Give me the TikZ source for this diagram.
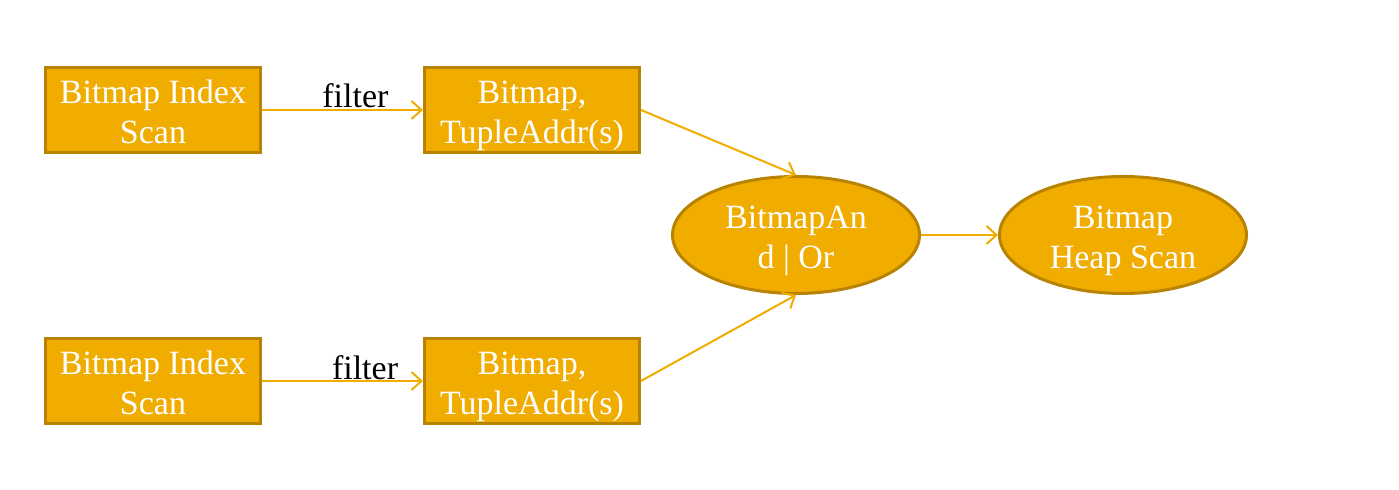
\documentclass[tikz,border=0pt]{standalone}
\usepackage{fontspec}
\setmainfont{Liberation Serif}
\usetikzlibrary{shapes.geometric,arrows.meta}
\definecolor{gold}{HTML}{F0AD00}
\definecolor{darkgold}{HTML}{B88300}
\tikzset{
  box/.style={draw=darkgold, line width=1.5pt, fill=gold, text=white,
    minimum width=107.5pt, minimum height=42.5pt, inner sep=0pt,
    align=center, font=\fontsize{17}{20}\selectfont,
    text height=34pt, text depth=0pt},
  oval/.style={box, ellipse, minimum width=123.5pt, minimum height=58.5pt},
  flow/.style={draw=gold, line width=1pt, -{Straight Barb[length=5pt,width=9pt]}},
  lbl/.style={font=\fontsize{17}{20}\selectfont, text=black}
}
\begin{document}
\begin{tikzpicture}[x=0.5pt, y=-0.5pt]
      \useasboundingbox (0,0) rectangle (1399,490);
      \node[box] (idx1) at (153,110) {Bitmap Index\\Scan};
      \node[box] (bm1) at (532,110) {Bitmap,\\TupleAddr(s)};
      \node[box] (idx2) at (153,381) {Bitmap Index\\Scan};
      \node[box] (bm2) at (532,381) {Bitmap,\\TupleAddr(s)};
      \node[oval] (andor) at (796,235) {BitmapAn\\d | Or};
      \node[oval] (heap) at (1123,235) {Bitmap\\Heap Scan};
      \begin{scope}[flow]
        \draw (idx1) to node[lbl, pos=0.58, above, inner sep=0.5pt] (f1) {filter} (bm1);
        \draw (idx2) to node[lbl, pos=0.64, above, inner sep=0pt] (f2) {filter} (bm2);
        \draw (bm1.east) to (andor.north);
        \draw (bm2.east) to (andor.south);
        \draw (andor) to (heap);
      \end{scope}
    \end{tikzpicture}
\end{document}
